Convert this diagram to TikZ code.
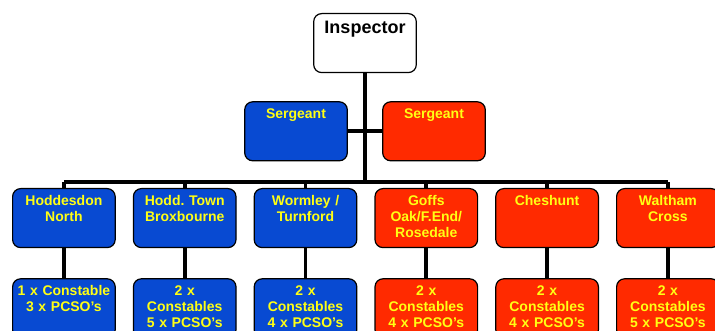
\documentclass[tikz,border=0pt]{standalone}
\usepackage{fontspec}
\setmainfont{Liberation Sans}
\usepackage{tikz}
\usetikzlibrary{positioning}

\definecolor{teamblue}{RGB}{8,74,210}
\definecolor{teamred}{RGB}{255,42,0}
\definecolor{teamyellow}{RGB}{255,255,20}

\frenchspacing
\begin{document}
\begin{tikzpicture}[
    node distance=17pt,
    box/.style={rectangle, draw, line width=1.2pt, rounded corners=8pt, text width=98.6pt, inner xsep=2pt, inner ysep=0pt,
        text height=17pt, text depth=42pt, align=center, font=\bfseries\fontsize{14}{16}\selectfont},
    bluebox/.style={box, fill=teamblue, text=teamyellow},
    redbox/.style={box, fill=teamred, text=teamyellow},
    topbox/.style={box, fill=white, text=black, text height=20pt, text depth=39pt, font=\bfseries\fontsize{18}{20}\selectfont},
    conn/.style={line width=3.8pt}
]
    \useasboundingbox (0,0) rectangle (715pt,-331pt);

    \node[topbox, anchor=north] (insp) at (365pt,-13pt) {Inspector};
    \node[bluebox, below=28pt of insp.south, xshift=-69pt] (sgtA) {Sergeant};
    \node[redbox, below=28pt of insp.south, xshift=69pt] (sgtB) {Sergeant};

    \node[bluebox, anchor=north west] (hodn) at (12pt,-188pt) {Hoddesdon\\North};
    \node[bluebox, right=of hodn] (hodt) {Hodd. Town\\Broxbourne};
    \node[bluebox, right=of hodt] (worm) {Wormley /\\Turnford};
    \node[redbox, right=of worm] (goff) {Goffs\\Oak/F.End/\\Rosedale};
    \node[redbox, right=of goff] (ches) {Cheshunt};
    \node[redbox, right=of ches] (walx) {Waltham\\Cross};

    \node[bluebox, below=30pt of hodn] (hodnT) {1 x Constable\\3 x PCSO’s};
    \node[bluebox, below=30pt of hodt] (hodtT) {2 x\\Constables\\5 x PCSO’s};
    \node[bluebox, below=30pt of worm] (wormT) {2 x\\Constables\\4 x PCSO’s};
    \node[redbox, below=30pt of goff] (goffT) {2 x\\Constables\\4 x PCSO’s};
    \node[redbox, below=30pt of ches] (chesT) {2 x\\Constables\\4 x PCSO’s};
    \node[redbox, below=30pt of walx] (walxT) {2 x\\Constables\\5 x PCSO’s};

    \coordinate[above=6pt of hodn.north] (busL);
    \coordinate[above=6pt of walx.north] (busR);

    \draw[conn] (sgtA.east) -- (sgtB.west);
    \draw[conn] (insp.south) -- (insp.south |- busL);
    \draw[conn] (busL) -- (busR);
    \foreach \n in {hodn,hodt,worm,goff,ches,walx} {
        \draw[conn] (\n.north) -- (\n.north |- busL);
        \draw[conn] (\n.south) -- (\n T.north);
    }
\end{tikzpicture}
\end{document}
